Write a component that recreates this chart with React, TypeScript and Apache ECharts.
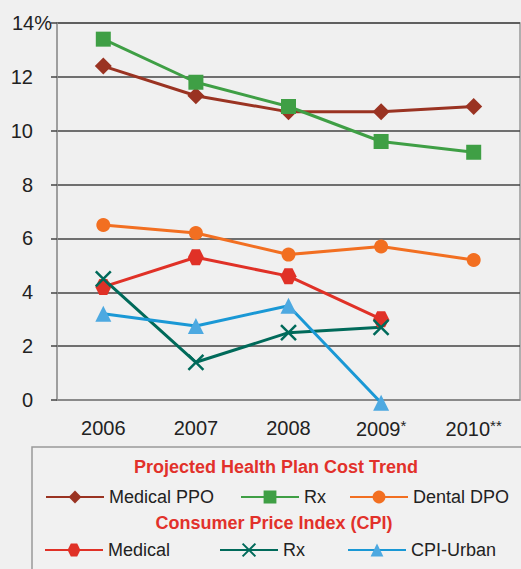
import React, { useEffect, useRef } from "react";
import * as echarts from "echarts";

const years = ["2006", "2007", "2008", "2009", "2010"];
const medicalPPO = [12.4, 11.3, 10.7, 10.7, 10.9];
const rxPlan = [13.4, 11.8, 10.9, 9.6, 9.2];
const dentalDPO = [6.5, 6.2, 5.4, 5.7, 5.2];
const cpiMedical = [4.2, 5.3, 4.6, 3.0, null];
const cpiRx = [4.5, 1.4, 2.5, 2.7, null];
const cpiUrban = [3.2, 2.75, 3.5, -0.1, null];
const yearSuffix: Record<string, string> = { "2009": "*", "2010": "**" };
const yTop = 14;

const FONT = "Liberation Sans";
const HEX = "path://M0,5L2.5,0.67L7.5,0.67L10,5L7.5,9.33L2.5,9.33Z";
const XSYM = "path://M0,0L10,10M10,0L0,10";

export default function App() {
  const ref = useRef<HTMLDivElement>(null);
  useEffect(() => {
    document.body.style.margin = "0";
    const chart = echarts.init(ref.current!, null, { renderer: "svg" });
    const mk = (name: string, data: any[], color: string, symbol: string, size: number, extra: any = {}) => ({
      name,
      type: "line",
      data,
      symbol,
      symbolSize: size,
      clip: false,
      connectNulls: false,
      lineStyle: { color: extra.lineColor || color, width: 3 },
      itemStyle: { color, ...(extra.itemStyle || {}) },
      emphasis: { disabled: true },
      z: 3,
    });
    const legendBase = (name: string, left: number, top: number) => ({
      data: [name],
      left,
      top,
      padding: 0,
      orient: "horizontal",
      itemWidth: 58,
      itemHeight: 16,
      selectedMode: false,
      formatter: (n: string) => (n === "Rx (CPI)" ? "Rx" : n),
      textStyle: { fontFamily: FONT, fontSize: 18, color: "#222" },
    });
    chart.setOption({
      animation: false,
      backgroundColor: "#f0f0f0",
      textStyle: { fontFamily: FONT },
      grid: { left: 57, right: 1, top: 23, bottom: 169, show: true, borderColor: "#999", borderWidth: 1.5, backgroundColor: "transparent" },
      xAxis: {
        type: "category",
        data: years,
        boundaryGap: true,
        axisLine: { lineStyle: { color: "#999", width: 1.5 } },
        axisTick: { alignWithLabel: true, length: 5, lineStyle: { color: "#999" } },
        axisLabel: {
          interval: 0,
          margin: 18,
          fontSize: 20,
          color: "#222",
          fontFamily: FONT,
          formatter: (v: string) => (yearSuffix[v] ? v + "{s|" + yearSuffix[v] + "}" : v),
          rich: { s: { fontSize: 15, color: "#222", fontFamily: FONT, padding: [0, 0, 6, 0] } },
        },
      },
      yAxis: {
        type: "value",
        min: 0,
        max: yTop,
        interval: 2,
        axisLine: { show: true, lineStyle: { color: "#999", width: 1.5 } },
        axisTick: { show: true, length: 6, lineStyle: { color: "#444", width: 1.5 } },
        splitLine: { lineStyle: { color: "#444", width: 1.5 } },
        axisLabel: {
          margin: 24,
          fontSize: 20,
          color: "#222",
          fontFamily: FONT,
          formatter: (v: number) => (v === yTop ? "" : String(v)),
        },
      },
      legend: [
        legendBase("Medical PPO", 45, 488),
        legendBase("Rx", 240, 488),
        legendBase("Dental DPO", 349, 488),
        legendBase("Medical", 44, 541),
        legendBase("Rx (CPI)", 219, 541),
        legendBase("CPI-Urban", 347, 541),
      ],
      graphic: [
        { type: "rect", shape: { x: 32, y: 447, width: 500, height: 140 }, style: { fill: "#f1f1f1", stroke: "#999", lineWidth: 1.5 }, z: -1 },
        { type: "text", x: 12, y: 23, style: { text: yTop + "%", fill: "#222", font: "20px 'Liberation Sans'", textAlign: "left", textVerticalAlign: "middle" } },
        { type: "text", x: 276, y: 467, style: { text: "Projected Health Plan Cost Trend", fill: "#e2312b", font: "bold 18px 'Liberation Sans'", textAlign: "center", textVerticalAlign: "middle" } },
        { type: "text", x: 274, y: 523, style: { text: "Consumer Price Index (CPI)", fill: "#e2312b", font: "bold 18px 'Liberation Sans'", textAlign: "center", textVerticalAlign: "middle" } },
      ],
      series: [
        mk("Medical PPO", medicalPPO, "#9a3322", "diamond", 17),
        mk("Rx", rxPlan, "#3f9f45", "rect", 15),
        mk("Dental DPO", dentalDPO, "#f26f21", "circle", 14),
        mk("Medical", cpiMedical, "#e03127", HEX, 16),
        mk("Rx (CPI)", cpiRx, "#006a5a", XSYM, 15, { itemStyle: { borderColor: "#006a5a", borderWidth: 2.5 } }),
        mk("CPI-Urban", cpiUrban, "#4da9e1", "triangle", 16, { lineColor: "#1a98d5" }),
      ],
    });
    return () => chart.dispose();
  }, []);
  return <div ref={ref} style={{ width: 521, height: 569 }} />;
}
